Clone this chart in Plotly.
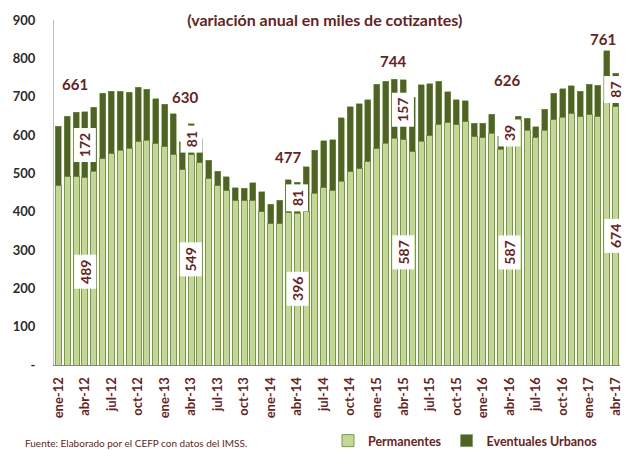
import plotly.graph_objects as go

# ---------------- data ----------------
meses = ["ene", "feb", "mar", "abr", "may", "jun", "jul", "ago", "sep", "oct", "nov", "dic"]
anios = ["12", "13", "14", "15", "16", "17"]
categorias = [f"{m}-{a}" for a in anios for m in meses][:64]

permanentes = [468, 491, 491, 489, 506, 538, 551, 560, 565, 583, 586, 577,
               569, 549, 509, 549, 527, 486, 467, 455, 429, 429, 429, 400,
               368, 368, 397, 396, 400, 448, 462, 455, 480, 504, 512, 530,
               564, 578, 591, 587, 556, 584, 598, 627, 632, 627, 634, 596,
               593, 605, 563, 587, 638, 612, 593, 612, 640, 646, 656, 648,
               653, 648, 688, 674]

eventuales = [155, 158, 169, 172, 166, 171, 163, 154, 147, 142, 133, 118,
              111, 107, 73, 81, 63, 48, 39, 36, 33, 32, 46, 52,
              52, 62, 86, 81, 117, 112, 123, 132, 165, 170, 169, 162,
              169, 162, 155, 157, 143, 147, 136, 113, 81, 65, 56, 35,
              38, 49, 34, 39, 11, 32, 29, 55, 69, 75, 73, 66,
              80, 82, 132, 87]

etiqueta_idx = [3, 15, 27, 39, 51, 63]          # months with value labels (abril)
total_offsets = [(-10, 28), (-6, 27), (-9, 25), (-10, 19), (-2, 45), (-13, 34)]

x_ticks = categorias[::3]
y_ticks = [0, 100, 200, 300, 400, 500, 600, 700, 800, 900]
y_ticktext = ["-", "100", "200", "300", "400", "500", "600", "700", "800", "900"]

# ---------------- style ----------------
MAROON = "#632523"
LIGHT = "#C4D79B"
DARK = "#4F6228"
EDGE = "#7A9A3E"
FONT = "Lato, 'Open Sans', sans-serif"

fig = go.Figure()
fig.add_trace(go.Bar(x=categorias, y=permanentes, name="Permanentes",
                     marker=dict(color=LIGHT, line=dict(color=EDGE, width=1))))
fig.add_trace(go.Bar(x=categorias, y=eventuales, name="Eventuales Urbanos",
                     marker=dict(color=DARK, line=dict(color=EDGE, width=0.6))))

annotations = []
for k, i in enumerate(etiqueta_idx):
    p, e = permanentes[i], eventuales[i]
    for val, ypos in ((p, p / 2), (e, p + e / 2)):
        txt = str(val)
        annotations.append(dict(
            x=categorias[i], y=ypos, xref="x", yref="y", text=txt,
            showarrow=False, textangle=-90, bgcolor="white",
            width=29 if len(txt) == 3 else 22, height=17, borderpad=2,
            xanchor="center", yanchor="middle",
            font=dict(family=FONT, size=14, color=MAROON, weight="bold")))
    dx, dy = total_offsets[k]
    annotations.append(dict(
        x=categorias[i], y=p + e, xref="x", yref="y", text=str(p + e),
        showarrow=False, xshift=dx, yshift=dy,
        xanchor="center", yanchor="middle",
        font=dict(family=FONT, size=15, color=MAROON, weight="bold")))

annotations.append(dict(
    text="Fuente: Elaborado por el CEFP con datos del IMSS.",
    xref="paper", yref="paper", x=-0.0553, y=-0.227, xanchor="left",
    yanchor="middle", showarrow=False,
    font=dict(family=FONT, size=10, color=MAROON)))

fig.update_layout(
    width=627, height=450,
    margin=dict(l=53.5, r=4, t=19.5, b=84.5),
    barmode="stack", bargap=0.32,
    paper_bgcolor="white", plot_bgcolor="white",
    title=dict(text="(variación anual en miles de cotizantes)",
               x=0.518, xref="container", xanchor="center",
               y=1 - 20 / 450, yref="container", yanchor="middle",
               font=dict(family=FONT, size=16, color=MAROON, weight="bold")),
    showlegend=True,
    legend=dict(orientation="h", xref="container", yref="container",
                x=328 / 627, xanchor="left", y=1 - 441 / 450, yanchor="middle",
                font=dict(family=FONT, size=12.5, color=MAROON, weight="bold"),
                traceorder="normal", bgcolor="rgba(0,0,0,0)"),
    annotations=annotations,
)
fig.update_xaxes(type="category", categoryorder="array", categoryarray=categorias,
                 range=[-0.5, 63.5], tickmode="array", tickvals=x_ticks,
                 ticktext=x_ticks, tickangle=-90, showline=True,
                 linecolor="#868686", linewidth=1, showgrid=False, ticks="",
                 ticklabelstandoff=6,
                 tickfont=dict(family=FONT, size=13, color=MAROON, weight="bold"))
fig.update_yaxes(range=[0, 900], tickmode="array", tickvals=y_ticks,
                 ticktext=y_ticktext, showgrid=False, zeroline=False,
                 showline=True, linecolor="#BFBFBF", linewidth=1, ticks="",
                 ticklabelstandoff=15,
                 tickfont=dict(family=FONT, size=13, color="#2b2b2b", weight="bold"))

fig.write_html("out.html", config={"displayModeBar": False},
               post_script="document.body.style.margin='0';document.body.style.padding='0';")
